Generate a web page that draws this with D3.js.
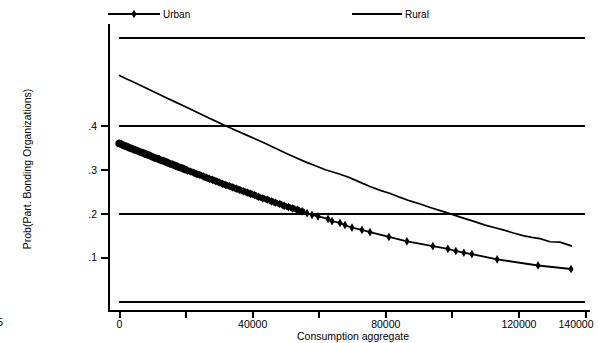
<!DOCTYPE html>
<html>
<head>
<meta charset="utf-8">
<script src="https://cdn.jsdelivr.net/npm/d3@7"></script>
<style>
  html, body { margin: 0; padding: 0; background: #fff; }
  svg { display: block; font-family: "Liberation Sans", Arial, sans-serif; }
</style>
</head>
<body>
<svg id="chart" width="598" height="343"></svg>
<script>
// Predicted probability of participating in bonding organizations by consumption
const seriesNames = ["Urban", "Rural"];

const urbanConsumption = [0, 700, 1500, 2300, 3100, 3900, 4800, 5600, 6500, 7300, 8200, 9000, 9900, 10800,
  11700, 12500, 13400, 14300, 15200, 16100, 17000, 17900, 18800, 19700, 20600, 21500, 22500, 23400,
  24300, 25300, 26200, 27200, 28100, 29100, 30100, 31100, 32100, 33100, 34100, 35200, 36300, 37400,
  38500, 39600, 40800, 42000, 43200, 44500, 45800, 47000, 48300, 49600, 50900, 52200, 53600, 55000,
  56500, 58000, 59800, 62800, 64000, 66400, 67900, 70000, 73000, 75400, 81100, 86500, 94300, 98800,
  101200, 103600, 106000, 113600, 125900, 135800];
const urbanProb = [0.360, 0.358, 0.355, 0.353, 0.350, 0.348, 0.345, 0.343, 0.340, 0.338, 0.335, 0.333, 0.330, 0.327,
  0.325, 0.322, 0.320, 0.317, 0.314, 0.312, 0.309, 0.306, 0.304, 0.301, 0.298, 0.296, 0.293, 0.290,
  0.288, 0.285, 0.282, 0.279, 0.277, 0.274, 0.271, 0.268, 0.265, 0.263, 0.260, 0.257, 0.254, 0.251,
  0.248, 0.245, 0.242, 0.238, 0.235, 0.232, 0.228, 0.225, 0.222, 0.218, 0.215, 0.212, 0.209, 0.205,
  0.201, 0.197, 0.194, 0.188, 0.183, 0.179, 0.174, 0.168, 0.163, 0.158, 0.147, 0.137, 0.126, 0.120,
  0.115, 0.111, 0.108, 0.096, 0.082, 0.074];

const ruralConsumption = [0, 2000, 4500, 7000, 9500, 12000, 14500, 17000, 19500, 22000, 24500, 27000, 29500,
  32000, 35000, 38000, 41000, 44000, 47000, 50000, 53000, 56000, 59000, 62000, 65500, 69000, 72000,
  75400, 78500, 81500, 84500, 87400, 90500, 93500, 96500, 99400, 103000, 106400, 110000, 113000,
  115400, 118500, 121400, 124000, 126500, 129500, 132500, 136100];
const ruralProb = [0.515, 0.508, 0.499, 0.490, 0.481, 0.472, 0.463, 0.454, 0.445, 0.436, 0.427, 0.418, 0.409,
  0.400, 0.390, 0.380, 0.370, 0.360, 0.349, 0.338, 0.328, 0.318, 0.309, 0.300, 0.292, 0.283, 0.273,
  0.262, 0.253, 0.246, 0.237, 0.229, 0.222, 0.214, 0.207, 0.200, 0.191, 0.183, 0.174, 0.168,
  0.163, 0.156, 0.150, 0.146, 0.143, 0.136, 0.135, 0.126];

const xTickValues = [0, 20000, 40000, 60000, 80000, 100000, 120000, 140000];
const xTickLabels = [0, 40000, 80000, 120000, 140000];
const yTickValues = [0.1, 0.2, 0.3, 0.4];
const yTickLabels = [".1", ".2", ".3", ".4"];
const gridValues = [0, 0.2, 0.4, 0.6];

const xTitle = "Consumption aggregate";
const yTitle = "Prob(Part. Bonding Organizations)";

const urban = urbanConsumption.map((c, i) => ({ c, p: urbanProb[i] }));
const rural = ruralConsumption.map((c, i) => ({ c, p: ruralProb[i] }));

const svg = d3.select("#chart");

const x = d3.scaleLinear().domain([0, 140000]).range([119, 585]);
const y = d3.scaleLinear().domain([0, 0.6]).range([301.5, 38]);

const axisX = 109, axisY = 311;

// reference lines
svg.append("g").selectAll("line").data(gridValues).join("line")
  .attr("x1", x(0)).attr("x2", x(140000))
  .attr("y1", d => Math.round(y(d))).attr("y2", d => Math.round(y(d)))
  .attr("stroke", "#000").attr("stroke-width", 2)
  .attr("shape-rendering", "crispEdges");

// axis lines
svg.append("line").attr("x1", axisX).attr("x2", axisX).attr("y1", 24).attr("y2", axisY + 1)
  .attr("stroke", "#000").attr("stroke-width", 2).attr("shape-rendering", "crispEdges");
svg.append("line").attr("x1", axisX - 1).attr("x2", 590).attr("y1", axisY).attr("y2", axisY)
  .attr("stroke", "#000").attr("stroke-width", 2).attr("shape-rendering", "crispEdges");

// x axis ticks and labels
const xAxis = d3.axisBottom(x)
  .tickValues(xTickValues)
  .tickSize(7)
  .tickPadding(3)
  .tickFormat(d => xTickLabels.includes(d) ? String(d) : "");
const gx = svg.append("g").attr("transform", `translate(0,${axisY})`).call(xAxis);
gx.select(".domain").remove();
gx.selectAll(".tick line").attr("stroke", "#000").attr("stroke-width", 2).attr("shape-rendering", "crispEdges");
gx.selectAll(".tick text").attr("fill", "#000").style("font-size", "10.5px")
  .style("font-family", "Liberation Sans, Arial, sans-serif");
// keep the last label inside the drawing area
gx.selectAll(".tick text").filter(d => d === 140000)
  .attr("text-anchor", "end").attr("x", 593 - x(140000));

// y axis ticks and labels
const yAxis = d3.axisLeft(y)
  .tickValues(yTickValues)
  .tickSize(8)
  .tickPadding(4)
  .tickFormat((d, i) => yTickLabels[i]);
const gy = svg.append("g").attr("transform", `translate(${axisX},0)`).call(yAxis);
gy.select(".domain").remove();
gy.selectAll(".tick line").attr("stroke", "#000").attr("stroke-width", 2).attr("shape-rendering", "crispEdges");
gy.selectAll(".tick text").attr("fill", "#000").style("font-size", "10.5px")
  .style("font-family", "Liberation Sans, Arial, sans-serif");

// axis titles
svg.append("text").attr("x", 353).attr("y", 340).attr("text-anchor", "middle")
  .style("font-size", "10.5px").text(xTitle);
svg.append("text").attr("transform", "translate(31,169) rotate(-90)").attr("text-anchor", "middle")
  .style("font-size", "10.5px").text(yTitle);
svg.append("text").attr("x", 3).attr("y", 326).attr("text-anchor", "end")
  .style("font-size", "11px").text("5");

const line = d3.line().x(d => x(d.c)).y(d => y(d.p));

// rural curve
svg.append("path").datum(rural).attr("d", line)
  .attr("fill", "none").attr("stroke", "#000").attr("stroke-width", 1.7);

// urban curve with markers
svg.append("path").datum(urban).attr("d", line)
  .attr("fill", "none").attr("stroke", "#000").attr("stroke-width", 1.8);
const marker = d3.symbol().type(d3.symbolDiamond).size(22);
svg.append("g").selectAll("path").data(urban).join("path")
  .attr("d", marker)
  .attr("transform", d => `translate(${x(d.c)},${y(d.p)})`)
  .attr("fill", "#000");
svg.append("g").selectAll("circle").data(urban.filter(d => d.c < 56000)).join("circle")
  .attr("cx", d => x(d.c)).attr("cy", d => y(d.p))
  .attr("r", d => d.c < 20000 ? 3.7 : 3.3).attr("fill", "#000");

// legend
const legend = svg.append("g");
legend.append("line").attr("x1", 108).attr("x2", 160).attr("y1", 14).attr("y2", 14)
  .attr("stroke", "#000").attr("stroke-width", 1.8);
legend.append("path").attr("d", marker).attr("transform", "translate(134,14)").attr("fill", "#000");
legend.append("text").attr("x", 163).attr("y", 17.5).style("font-size", "10px").text(seriesNames[0]);
legend.append("line").attr("x1", 352).attr("x2", 402).attr("y1", 14).attr("y2", 14)
  .attr("stroke", "#000").attr("stroke-width", 1.8);
legend.append("text").attr("x", 405).attr("y", 17.5).style("font-size", "10px").text(seriesNames[1]);
</script>
</body>
</html>
